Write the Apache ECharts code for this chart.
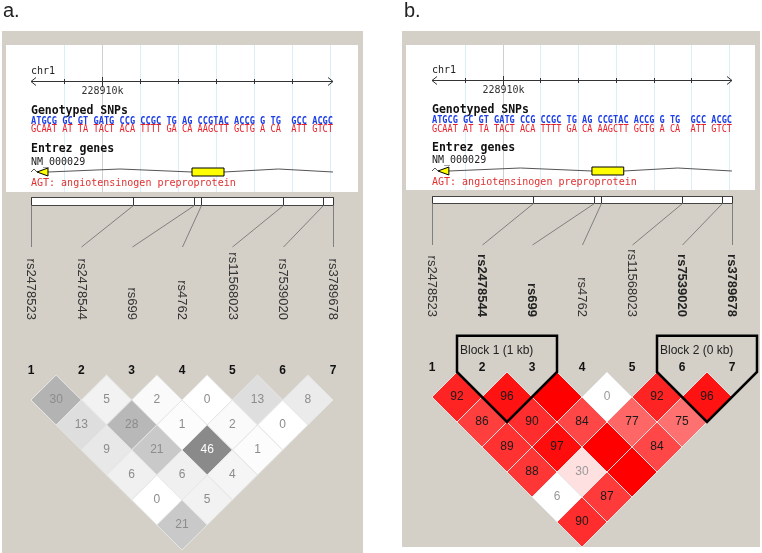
<!DOCTYPE html>
<html><head><meta charset="utf-8">
<script src="https://cdn.jsdelivr.net/npm/echarts@6/dist/echarts.min.js"></script>
<style>html,body{margin:0;padding:0;background:#fff}#c{width:762px;height:553px}</style>
</head><body><div id="c"></div>
<script>
// ---------------- data ----------------
const snpNames = ['rs2478523','rs2478544','rs699','rs4762','rs11568023','rs7539020','rs3789678'];
const snpNumbers = ['1','2','3','4','5','6','7'];
const snpPositions = [228908132, 228910816, 228912417, 228912600, 228914763, 228915816, 228916079];
const kbTicks = [228909000, 228910000, 228911000, 228912000, 228913000, 228914000, 228915000];
const kbGridLines = [228909000, 228910000, 228911000, 228912000, 228913000, 228914000, 228915000, 228916000];
const labelledTick = 228910000;
const labelledTickText = '228910k';
const chromName = 'chr1';
const geneExons = [[228908290, 228908579], [228912369, 228913211]];
const geneName = 'NM_000029';
const geneDesc = 'AGT: angiotensinogen preproprotein';
const alleleRowTop = 'ATGCG GC GT GATG CCG CCGC TG AG CCGTAC ACCG G TG  GCC ACGC';
const alleleRowBottom = 'GCAAT AT TA TACT ACA TTTT GA CA AAGCTT GCTG A CA  ATT GTCT';
// LD values by distance (row d holds pairs (i, i+d))
const r2ValuesA = [[30,5,2,0,13,8],[13,28,1,2,0],[9,21,46,1],[6,6,4],[0,5],[21]];
const dPrimeValuesB = [[92,96,100,0,92,96],[86,90,84,77,75],[89,97,100,84],[88,30,100],[6,87],[90]];
const lodStrongB = [[1,1,1,0,1,1],[1,1,1,1,1],[1,1,1,1],[1,1,1],[0,1],[1]];
const blocksB = [[2,3],[6,7]];

// ---------------- layout ----------------
const SANS = '"Liberation Sans", Arial, sans-serif';
const MONO = '"DejaVu Sans Mono", monospace';
const n = snpNames.length;

function ldData(vals, strong){
  const out = [];
  vals.forEach((row, k) => { const d = k + 1;
    row.forEach((v, m) => { const i = m + 1, j = i + d;
      out.push([(i + j) / 2, d, v, strong ? strong[k][m] : 1]); }); });
  return out;
}
const cellA = (v) => { const g = Math.round(255 * (1 - v / 100));
  return {fill:`rgb(${g},${g},${g})`, text:String(v), color: g < 160 ? '#ffffff' : '#8c8c8c'}; };
const cellB = (v, s) => {
  if (!s) return {fill:'#ffffff', text:String(v), color:'#999999'};
  if (v < 50) return {fill:'rgb(255,224,224)', text:String(v), color:'#999999'};
  const g = Math.round(223 * 2 * (1 - v / 100));
  return {fill:`rgb(255,${g},${g})`, text: v >= 100 ? null : String(v), color:'#1a1a1a'};
};

const panels = [
  { title:'a.', titleX:3, bg:[2,31,361,522], white:[6,45,352,147], left:31, width:302, ldTop:375,
    L:{chrText:71, axis:81.5, tickLabel:91.5, geno:111, aTop:121, aBot:129.5, entrez:149, nm:162, gene:172, agt:183, barTop:197.5, barBot:205.5, conn:247},
    ld: ldData(r2ValuesA, null), cell: cellA, blocks: [] },
  { title:'b.', titleX:404, bg:[402,31,358,516], white:[406,45,349,145], left:432, width:300, ldTop:372,
    L:{chrText:70.5, axis:80.5, tickLabel:90.5, geno:110, aTop:120.5, aBot:129, entrez:148.5, nm:160.5, gene:171, agt:182, barTop:196.5, barBot:203.5, conn:245},
    ld: ldData(dPrimeValuesB, lodStrongB), cell: cellB, blocks: blocksB }
];

const ctx = document.createElement('canvas').getContext('2d');
function tw(t, font){ ctx.font = font; return ctx.measureText(t).width; }

const grids = [], xAxes = [], yAxes = [], series = [], graphics = [];
const px = v => Math.round(v) + 0.5;

panels.forEach((P, pi) => {
  const L = P.L;
  const gB = grids.length;
  grids.push({left:P.left, width:P.width, top:0, height:553});
  grids.push({left:P.left, width:P.width, top:P.ldTop, height:150});
  const xB = xAxes.length;
  xAxes.push({gridIndex:gB, type:'value', min:snpPositions[0], max:snpPositions[n-1], show:false});
  const blockSnps = new Set();
  P.blocks.forEach(([s,e]) => { for (let k = s; k <= e; k++) blockSnps.add(k); });
  xAxes.push({gridIndex:gB+1, type:'value', min:1, max:n, interval:1, position:'top',
    axisLine:{show:false}, axisTick:{show:false}, splitLine:{show:false},
    axisLabel:{margin:-2, showMinLabel:true, showMaxLabel:true, fontSize:12, fontWeight:'bold', fontFamily:SANS, color:'#111',
      formatter: v => snpNumbers[v-1] || ''}});
  xAxes.push({gridIndex:gB+1, type:'value', min:1, max:n, interval:1, position:'top', offset:52,
    axisLine:{show:false}, axisTick:{show:false}, splitLine:{show:false},
    axisLabel:{margin:3, rotate:90, showMinLabel:true, showMaxLabel:true,
      formatter: v => { const nm = snpNames[v-1]; if (!nm) return ''; return blockSnps.has(v) ? '{b|' + nm + '}' : '{r|' + nm + '}'; },
      rich:{ b:{fontSize:13, fontWeight:'bold', fontFamily:SANS, color:'#222'}, r:{fontSize:13, fontFamily:SANS, color:'#333'} }}});
  const yB = yAxes.length;
  yAxes.push({gridIndex:gB, type:'value', min:0, max:553, inverse:true, show:false});
  yAxes.push({gridIndex:gB+1, type:'value', min:0, max:6, inverse:true, show:false});

  const bAx = {xAxisIndex:xB, yAxisIndex:yB};
  const ldAx = {xAxisIndex:xB+1, yAxisIndex:yB+1};
  const W = P.white;

  // vertical kb grid lines
  series.push(Object.assign({type:'custom', z:2, silent:true, data:kbGridLines.map(v=>[v]),
    renderItem:(params, api) => { const v = api.value(0); const x = px(api.coord([v, 0])[0]);
      return {type:'line', shape:{x1:x, y1:W[1], x2:x, y2:W[1]+W[3]},
        style:{stroke: v === labelledTick ? '#cfcfcf' : '#d9eef6', lineWidth:1}}; }}, bAx));
  // chromosome axis line with open arrows
  series.push(Object.assign({type:'custom', z:4, silent:true, data:[[snpPositions[0], snpPositions[n-1]]],
    renderItem:(params, api) => { const a = api.coord([api.value(0), 0])[0], b = api.coord([api.value(1), 0])[0], y = L.axis;
      return {type:'group', children:[
        {type:'line', shape:{x1:a, y1:y, x2:b, y2:y}, style:{stroke:'#333', lineWidth:1}},
        {type:'polyline', shape:{points:[[a+5,y-4],[a,y],[a+5,y+4]]}, style:{stroke:'#333', lineWidth:1, fill:null}},
        {type:'polyline', shape:{points:[[b-5,y-4],[b,y],[b-5,y+4]]}, style:{stroke:'#333', lineWidth:1, fill:null}}]}; }}, bAx));
  // kb ticks
  series.push(Object.assign({type:'custom', z:4, silent:true, data:kbTicks.map(v=>[v]),
    renderItem:(params, api) => { const v = api.value(0); const x = px(api.coord([v, 0])[0]); const y = L.axis;
      const big = v === labelledTick;
      const ch = [{type:'line', shape:{x1:x, y1: big ? y-4.5 : y-2.5, x2:x, y2: big ? y+5.5 : y+2.5}, style:{stroke:'#333', lineWidth:1}}];
      if (big) ch.push({type:'text', style:{x:x, y:L.tickLabel, text:labelledTickText, font:'10px ' + MONO, fill:'#333', align:'center', verticalAlign:'middle'}});
      return {type:'group', children:ch}; }}, bAx));
  // gene introns (carets)
  const introns = [];
  let prev = snpPositions[0];
  geneExons.forEach(e => { introns.push([prev, e[0]]); prev = e[1]; });
  introns.push([prev, snpPositions[n-1]]);
  series.push(Object.assign({type:'custom', z:4, silent:true, data:introns,
    renderItem:(params, api) => { const a = api.coord([api.value(0), 0])[0], b = api.coord([api.value(1), 0])[0], y = L.gene;
      return {type:'polyline', shape:{points:[[a,y],[(a+b)/2, y-3],[b,y]]}, style:{stroke:'#555', lineWidth:1, fill:null}}; }}, bAx));
  // gene exons
  series.push(Object.assign({type:'custom', z:5, silent:true, data:geneExons,
    renderItem:(params, api) => { const a = api.coord([api.value(0), 0])[0], b = api.coord([api.value(1), 0])[0], y = L.gene;
      if (params.dataIndex === 0) return {type:'polygon', shape:{points:[[a,y],[b,y-4],[b,y+4]]}, style:{fill:'#ffff00', stroke:'#000', lineWidth:1}};
      return {type:'rect', shape:{x:a, y:y-4, width:b-a, height:8}, style:{fill:'#ffff00', stroke:'#000', lineWidth:1}}; }}, bAx));
  // SNP position bar
  series.push(Object.assign({type:'custom', z:4, silent:true, data:[[snpPositions[0], snpPositions[n-1]]],
    renderItem:(params, api) => { const a = px(api.coord([api.value(0), 0])[0]), b = px(api.coord([api.value(1), 0])[0]);
      return {type:'rect', shape:{x:a, y:L.barTop, width:b-a, height:L.barBot-L.barTop}, style:{fill:'#fff', stroke:'#444', lineWidth:1}}; }}, bAx));
  // SNP ticks and connectors
  series.push(Object.assign({type:'custom', z:5, silent:true, data:snpPositions.map((p,i)=>[p,i]),
    renderItem:(params, api) => { const x = px(api.coord([api.value(0), 0])[0]); const i = api.value(1);
      const x0 = api.coord([snpPositions[0], 0])[0], x1 = api.coord([snpPositions[n-1], 0])[0];
      const lx = px(x0 + i / (n - 1) * (x1 - x0));
      return {type:'group', children:[
        {type:'line', shape:{x1:x, y1:L.barTop, x2:x, y2:L.barBot}, style:{stroke:'#333', lineWidth:1}},
        {type:'line', shape:{x1:x, y1:L.barBot, x2:lx, y2:L.conn}, style:{stroke:'#808080', lineWidth:1}}]}; }}, bAx));
  // LD diamonds
  series.push(Object.assign({type:'custom', z:6, silent:true, data:P.ld,
    renderItem:(params, api) => { const x = api.value(0), y = api.value(1), v = api.value(2), s = api.value(3);
      const pts = [[x,y-1],[x+0.5,y],[x,y+1],[x-0.5,y]].map(p => api.coord(p));
      const c = api.coord([x, y]); const st = P.cell(v, s);
      const ch = [{type:'polygon', shape:{points:pts}, style:{fill:st.fill, stroke:'#e6e6e6', lineWidth:1}}];
      if (st.text !== null) ch.push({type:'text', style:{x:c[0], y:c[1], text:st.text, fill:st.color, font:'12px ' + SANS, align:'center', verticalAlign:'middle'}});
      return {type:'group', children:ch}; }}, ldAx));
  // haplotype blocks
  if (P.blocks.length) {
    series.push(Object.assign({type:'custom', z:8, silent:true, data:P.blocks,
      renderItem:(params, api) => { const s = api.value(0), e = api.value(1);
        const pts = [[s-0.5,-1.45],[e+0.5,-1.45],[e+0.5,0],[(s+e)/2, e-s+1],[s-0.5,0]].map(p => api.coord(p));
        const kb = Math.floor((snpPositions[e-1] - snpPositions[s-1]) / 1000);
        const t = api.coord([s-0.5, -0.85]);
        return {type:'group', children:[
          {type:'polygon', shape:{points:pts}, style:{fill:null, stroke:'#000', lineWidth:2.5, lineJoin:'miter'}},
          {type:'text', style:{x:t[0]+3, y:t[1], text:'Block ' + (params.dataIndex+1) + ' (' + kb + ' kb)', font:'12px ' + SANS, fill:'#222', align:'left', verticalAlign:'middle'}}]}; }}, ldAx));
  }

  // static decorations
  graphics.push({type:'rect', z:0, shape:{x:P.bg[0], y:P.bg[1], width:P.bg[2], height:P.bg[3]}, style:{fill:'#d4d0c8'}});
  graphics.push({type:'rect', z:1, shape:{x:W[0], y:W[1], width:W[2], height:W[3]}, style:{fill:'#ffffff'}});
  graphics.push({type:'text', z:10, style:{x:P.titleX, y:11, text:P.title, font:'20px ' + SANS, fill:'#222', verticalAlign:'middle'}});
  graphics.push({type:'text', z:10, style:{x:P.left, y:L.chrText, text:chromName, font:'10px ' + MONO, fill:'#222', verticalAlign:'middle'}});
  graphics.push({type:'text', z:10, style:{x:P.left, y:L.geno, text:'Genotyped SNPs', font:'bold 11.5px ' + MONO, fill:'#111', verticalAlign:'middle'}});
  const aFont = 'bold 10px ' + MONO;
  const sTop = P.width / tw(alleleRowTop, aFont), sBot = P.width / tw(alleleRowBottom, aFont);
  graphics.push({type:'text', z:10, x:P.left, y:L.aTop, scaleX:sTop, style:{x:0, y:0, text:alleleRowTop, font:aFont, fill:'#1e3ee6', verticalAlign:'middle'}});
  graphics.push({type:'text', z:10, x:P.left, y:L.aBot, scaleX:sBot, style:{x:0, y:0, text:alleleRowBottom, font:'10px ' + MONO, fill:'#e8202a', verticalAlign:'middle'}});
  graphics.push({type:'text', z:10, style:{x:P.left, y:L.entrez, text:'Entrez genes', font:'bold 11.5px ' + MONO, fill:'#111', verticalAlign:'middle'}});
  graphics.push({type:'text', z:10, style:{x:P.left, y:L.nm, text:geneName, font:'10px ' + MONO, fill:'#222', verticalAlign:'middle'}});
  graphics.push({type:'text', z:10, style:{x:P.left, y:L.agt, text:geneDesc, font:'10px ' + MONO, fill:'#e03030', verticalAlign:'middle'}});
});

const chart = echarts.init(document.getElementById('c'), null, {renderer:'canvas'});
chart.setOption({
  animation:false,
  backgroundColor:'#ffffff',
  grid:grids, xAxis:xAxes, yAxis:yAxes, series:series,
  graphic:{elements:graphics}
});
</script></body></html>
